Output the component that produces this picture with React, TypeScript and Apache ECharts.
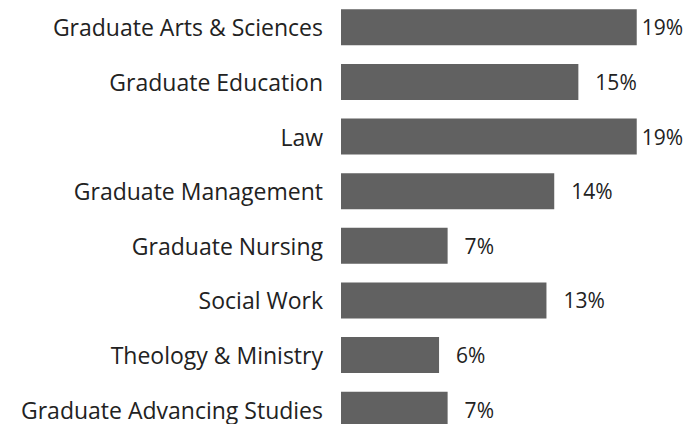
import React, { useEffect, useRef } from "react";
import * as echarts from "echarts";

const categories = [
  "Graduate Arts & Sciences",
  "Graduate Education",
  "Law",
  "Graduate Management",
  "Graduate Nursing",
  "Social Work",
  "Theology & Ministry",
  "Graduate Advancing Studies",
];
const values = [19.0, 15.25, 19.0, 13.7, 6.85, 13.2, 6.3, 6.85];

const FONT = "'Open Sans', 'Noto Sans', sans-serif";

export default function App() {
  const ref = useRef<HTMLDivElement>(null);
  useEffect(() => {
    if (!ref.current) return;
    const chart = echarts.init(ref.current, undefined, { renderer: "svg" });
    const xMax = 20;
    chart.setOption({
      animation: false,
      grid: { left: 341, top: 0, width: 311.3, height: 437, containLabel: false },
      xAxis: {
        type: "value",
        min: 0,
        max: xMax,
        show: false,
      },
      yAxis: {
        type: "category",
        data: categories,
        inverse: true,
        axisLine: { show: false },
        axisTick: { show: false },
        splitLine: { show: false },
        axisLabel: {
          margin: 18,
          fontSize: 23,
          lineHeight: 20,
          padding: [0, 0, 4, 0],
          fontFamily: FONT,
          color: "#222222",
        },
      },
      series: [
        {
          type: "bar",
          barWidth: 36,
          itemStyle: { color: "#616161" },
          data: values.map((v) => ({
            value: v,
            label: { distance: v > 18 ? 5 : 17 },
          })),
          label: {
            show: true,
            position: "right",
            fontSize: 21,
            lineHeight: 20,
            padding: [0, 0, 3, 0],
            fontFamily: FONT,
            color: "#222222",
            formatter: (p: any) => Math.round(p.value) + "%",
          },
        },
      ],
    });
    return () => chart.dispose();
  }, []);
  return (
    <div
      style={{
        position: "fixed",
        left: 0,
        top: 0,
        width: 700,
        height: 424,
        overflow: "hidden",
        background: "#ffffff",
      }}
    >
      <div ref={ref} style={{ width: 700, height: 460 }} />
    </div>
  );
}
